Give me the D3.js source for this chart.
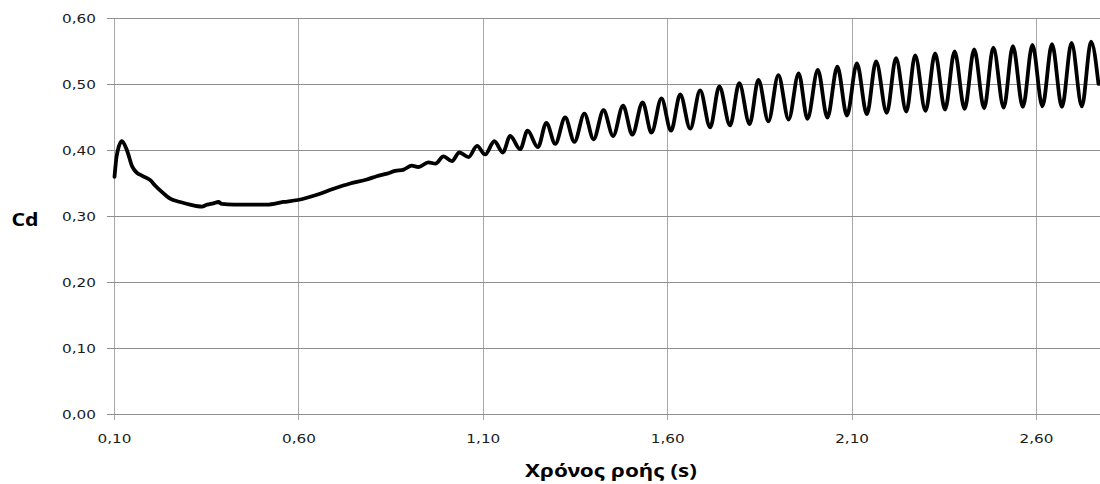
<!DOCTYPE html>
<html><head><meta charset="utf-8">
<script src="https://cdn.jsdelivr.net/npm/d3@7"></script>
<style>body{margin:0;background:#fff} svg{display:block}</style>
</head><body><svg id="c" width="1100" height="484"></svg>
<script>
// Flow time (s)
const time = [0.100,0.106,0.120,0.134,0.147,0.161,0.174,0.197,0.210,0.229,0.251,0.278,0.305,0.337,0.351,0.368,0.382,0.391,0.423,0.468,0.513,0.558,0.597,0.649,0.694,0.739,0.784,0.811,0.839,0.861,0.884,
0.906,0.924,0.951,0.970,0.992,1.015,1.035,1.060,1.083,1.105,1.130,1.153,1.173,1.200,1.220,1.248,1.271,1.295,1.322,1.347,1.374,1.399,1.426,1.452,1.479,1.504,1.532,1.556,1.583,1.609,1.634,1.661,1.688,1.715,1.740,1.769,1.794,1.822,
1.846,1.873,1.900,1.928,1.955,1.979,2.007,2.033,2.060,2.086,2.113,2.140,2.165,2.194,2.219,2.247,2.271,2.299,2.325,2.352,2.378,2.405,2.431,2.458,2.483,2.511,2.536,2.563,2.589,2.616,2.642,2.669,2.695,2.723,2.748,2.768];
// Drag coefficient Cd
const cd = [0.360,0.392,0.414,0.400,0.377,0.366,0.362,0.355,0.347,0.337,0.327,0.322,0.318,0.315,0.318,0.320,0.322,0.319,0.318,0.318,0.318,0.322,0.325,0.333,0.342,0.350,0.356,0.361,0.365,0.369,0.371,
0.377,0.375,0.382,0.380,0.391,0.384,0.397,0.390,0.407,0.394,0.414,0.397,0.422,0.402,0.430,0.405,0.442,0.410,0.450,0.413,0.456,0.417,0.461,0.422,0.468,0.424,0.473,0.427,0.479,0.430,0.485,0.433,0.491,0.435,0.497,0.438,0.502,0.440,
0.507,0.444,0.514,0.447,0.517,0.448,0.522,0.450,0.527,0.453,0.532,0.455,0.535,0.457,0.540,0.459,0.544,0.460,0.547,0.462,0.550,0.463,0.553,0.464,0.556,0.465,0.558,0.466,0.560,0.467,0.561,0.466,0.563,0.467,0.565,0.501];
const xTicks = [0.10,0.60,1.10,1.60,2.10,2.60];
const yTicks = [0.00,0.10,0.20,0.30,0.40,0.50,0.60];
const xTitle = "Χρόνος ροής (s)";
const yTitle = "Cd";

const svg = d3.select("#c");
const x = d3.scaleLinear().domain([0.1, 2.6]).range([114.5, 1036.5]);
const y = d3.scaleLinear().domain([0, 0.6]).range([414.5, 18.5]);
const fmt = v => d3.format(".2f")(v).replace(".", ",");
const crisp = v => Math.round(v - 0.5) + 0.5;

// vertical gridlines
svg.append("g").selectAll("line").data(xTicks).join("line")
  .attr("x1", d => crisp(x(d))).attr("x2", d => crisp(x(d)))
  .attr("y1", y(0.6)).attr("y2", 420)
  .attr("stroke", "#a8a8a8").attr("stroke-width", 1);
// horizontal gridlines + y ticks
svg.append("g").selectAll("line").data(yTicks).join("line")
  .attr("x1", 107).attr("x2", 1100)
  .attr("y1", d => crisp(y(d))).attr("y2", d => crisp(y(d)))
  .attr("stroke", "#8e8e8e").attr("stroke-width", 1);

const labelFont = "'DejaVu Sans', Verdana, sans-serif";
const sx = 1.27;
// y tick labels
svg.append("g").selectAll("text").data(yTicks).join("text")
  .attr("transform", d => `translate(96,${y(d) + 4.5}) scale(${sx},1)`)
  .attr("text-anchor", "end")
  .attr("font-family", labelFont).attr("font-size", 12)
  .attr("fill", "#1a1a1a")
  .text(fmt);
// x tick labels
svg.append("g").selectAll("text").data(xTicks).join("text")
  .attr("transform", d => `translate(${x(d)},443) scale(${sx},1)`)
  .attr("text-anchor", "middle")
  .attr("font-family", labelFont).attr("font-size", 12)
  .attr("fill", "#1a1a1a")
  .text(fmt);

// data line
const line = d3.line().x((d, i) => x(time[i])).y(d => y(d)).curve(d3.curveMonotoneX);
svg.append("path").datum(cd)
  .attr("d", line)
  .attr("fill", "none").attr("stroke", "#000")
  .attr("stroke-width", 3.8).attr("stroke-linejoin", "round").attr("stroke-linecap", "round");

// titles
const titleFont = "'Noto Sans', 'Open Sans', sans-serif";
const xt = svg.append("text")
  .attr("text-anchor", "middle")
  .attr("font-family", titleFont).attr("font-weight", 700).attr("font-size", 18)
  .attr("fill", "#000").text(xTitle);
const w = xt.node().getComputedTextLength();
const tsx = 172 / w;
xt.attr("transform", `translate(611,477) scale(${tsx},1)`);

svg.append("text")
  .attr("text-anchor", "middle")
  .attr("font-family", titleFont).attr("font-weight", 700).attr("font-size", 17)
  .attr("fill", "#000")
  .attr("transform", `translate(25,226) scale(${tsx},1)`)
  .text(yTitle);
</script></body></html>
